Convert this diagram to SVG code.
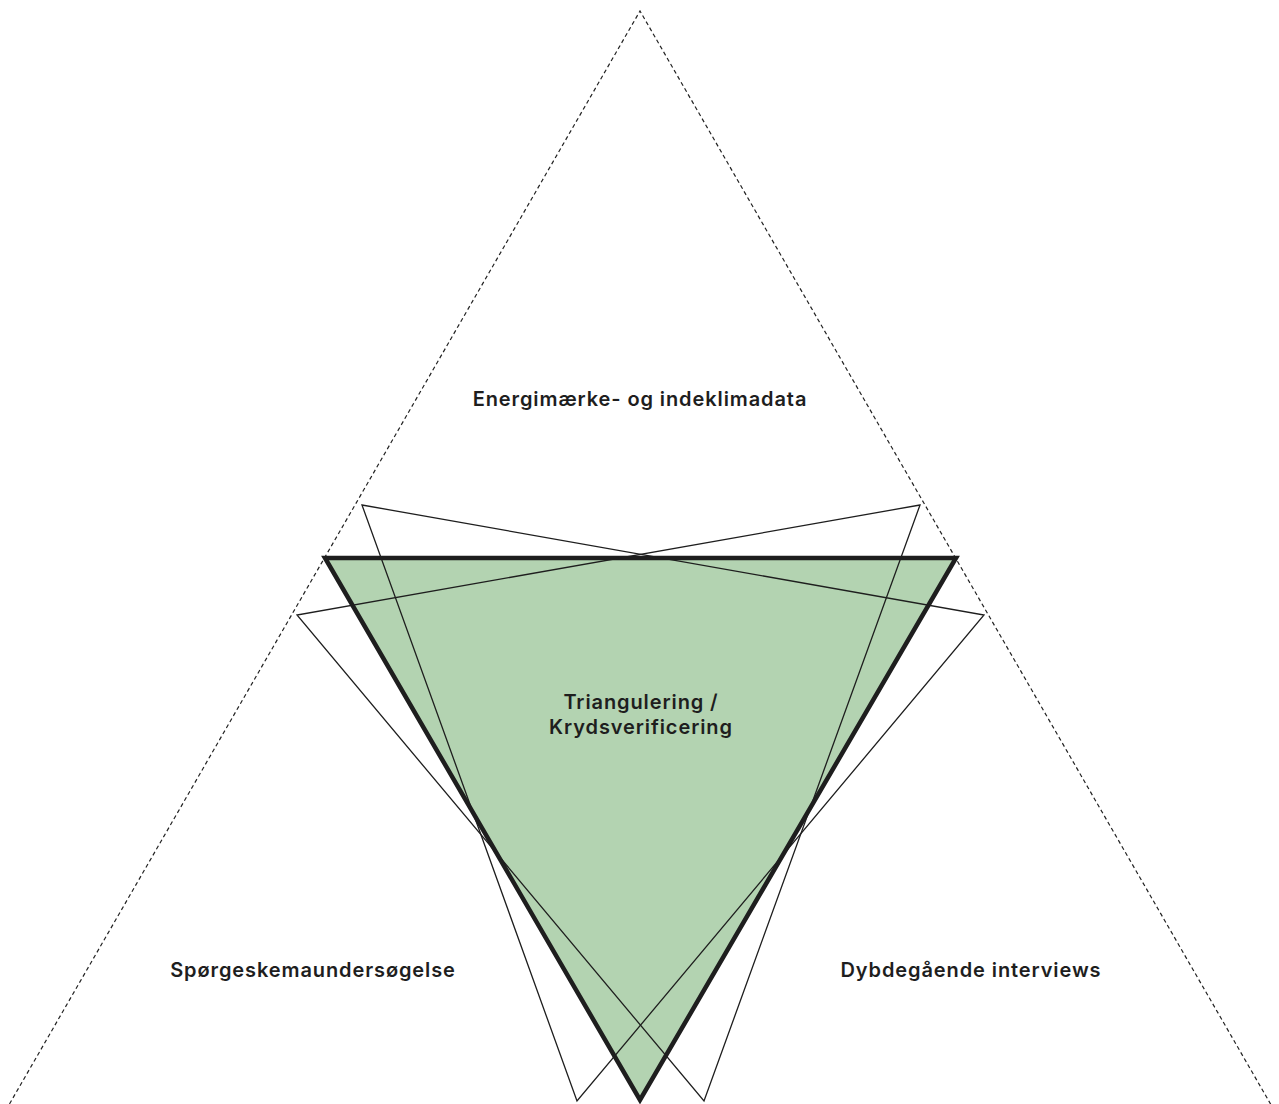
<svg xmlns="http://www.w3.org/2000/svg" width="1279" height="1104" viewBox="0 0 1279 1104">
<style>
.lbl{font-family:Inter,"Liberation Sans",sans-serif;font-weight:600;font-size:20px;letter-spacing:0.9px;fill:#1e1e1e;text-anchor:middle}
.thin{fill:none;stroke:#1e1e1e;stroke-width:1.3;stroke-linejoin:miter}
.dash{fill:none;stroke:#222;stroke-width:1.2;stroke-dasharray:4 3}
</style>
<rect width="1279" height="1104" fill="#fff"/>
<g id="connectors">
<polyline class="dash" points="6,1110 640,11 1274,1110"/>
</g>
<g id="triangulation">
<polygon points="325,558 956,558 640,1100" fill="#b3d3b1" stroke="#1e1e1e" stroke-width="4.5" stroke-linejoin="miter"/>
<polygon class="thin" points="362,505 984,615 577,1101"/>
<polygon class="thin" points="920,505 297,615 704,1101"/>
<text class="lbl" x="641" y="709">Triangulering /</text>
<text class="lbl" x="641" y="734">Krydsverificering</text>
</g>
<g id="energy">
<text class="lbl" x="640" y="406">Energimærke- og indeklimadata</text>
</g>
<g id="survey">
<text class="lbl" x="313" y="977">Spørgeskemaundersøgelse</text>
</g>
<g id="interviews">
<text class="lbl" x="971" y="977">Dybdegående interviews</text>
</g>
</svg>
